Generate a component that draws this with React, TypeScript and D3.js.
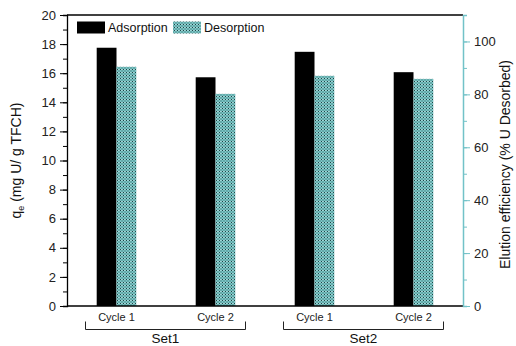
import React, { useEffect, useRef } from 'react';
import * as d3 from 'd3';

// categories and series (qe, mg U / g TFCH)
const sets = ['Set1', 'Set2'];
const cycles = ['Cycle 1', 'Cycle 2', 'Cycle 1', 'Cycle 2'];
const adsorption = [17.75, 15.72, 17.47, 16.07];
const desorption = [16.44, 14.58, 15.82, 15.61];
const leftTicks = [0, 2, 4, 6, 8, 10, 12, 14, 16, 18, 20];
const rightTicks = [0, 20, 40, 60, 80, 100];

const W = 516;
const H = 346;
const FONT = 'Arial, "Liberation Sans", sans-serif';
const TEAL = '#72c2c8';

const App = () => {
  const ref = useRef<SVGSVGElement>(null);

  useEffect(() => {
    const svg = d3.select(ref.current);
    svg.selectAll('*').remove();

    const m = { left: 67, right: 463, top: 15, bottom: 306 };

    // checkered fill for desorption bars
    const defs = svg.append('defs');
    const pat = defs.append('pattern')
      .attr('id', 'chk')
      .attr('patternUnits', 'userSpaceOnUse')
      .attr('width', 3)
      .attr('height', 3);
    pat.append('rect').attr('width', 3).attr('height', 3).attr('fill', '#78c4c4');
    pat.append('rect').attr('x', 0).attr('y', 0).attr('width', 1).attr('height', 1).attr('fill', '#1e4446');
    pat.append('rect').attr('x', 1.5).attr('y', 1.5).attr('width', 1).attr('height', 1).attr('fill', '#2c5c5e');
    pat.append('rect').attr('x', 1.5).attr('y', 0).attr('width', 0.8).attr('height', 0.8).attr('fill', '#e6f6f6');

    const x = d3.scaleBand<number>()
      .domain(d3.range(cycles.length))
      .range([m.left, m.right])
      .paddingInner(0.6)
      .paddingOuter(0.3);
    const y = d3.scaleLinear().domain([0, 20]).range([m.bottom, m.top]);
    const y2 = d3.scaleLinear().domain([0, 110]).range([m.bottom, m.top]);
    const bw = x.bandwidth() / 2;

    const g = svg.append('g');

    // bars
    g.selectAll('rect.ads')
      .data(adsorption)
      .join('rect')
      .attr('class', 'ads')
      .attr('x', (d, i) => x(i)!)
      .attr('y', d => y(d))
      .attr('width', bw)
      .attr('height', d => y(0) - y(d))
      .attr('fill', '#000');

    g.selectAll('rect.des')
      .data(desorption)
      .join('rect')
      .attr('class', 'des')
      .attr('x', (d, i) => x(i)! + bw)
      .attr('y', d => y(d))
      .attr('width', bw)
      .attr('height', d => y(0) - y(d))
      .attr('fill', 'url(#chk)');

    // frame: top and bottom
    g.append('line').attr('x1', m.left).attr('x2', m.right).attr('y1', m.top).attr('y2', m.top)
      .attr('stroke', '#000').attr('stroke-width', 1.3);
    g.append('line').attr('x1', m.left).attr('x2', m.right).attr('y1', m.bottom).attr('y2', m.bottom)
      .attr('stroke', '#000').attr('stroke-width', 1.3);

    // left axis
    const la = g.append('g').attr('transform', `translate(${m.left},0)`)
      .call(d3.axisLeft(y).tickValues(d3.range(0, 21, 1)).tickSize(4).tickFormat(() => ''));
    la.select('.domain').attr('stroke-width', 1.3);
    const la2 = g.append('g').attr('transform', `translate(${m.left},0)`)
      .call(d3.axisLeft(y).tickValues(leftTicks).tickSize(7).tickPadding(4).tickFormat(d3.format('d')));
    la2.select('.domain').remove();
    la2.selectAll('text').attr('font-family', FONT).attr('font-size', 13).attr('fill', '#222');

    // right axis
    const ra = g.append('g').attr('transform', `translate(${m.right},0)`)
      .call(d3.axisRight(y2).tickValues(d3.range(0, 111, 10)).tickSize(4).tickFormat(() => ''));
    ra.selectAll('line,path').attr('stroke', TEAL);
    ra.select('.domain').attr('stroke-width', 1.5);
    const ra2 = g.append('g').attr('transform', `translate(${m.right},0)`)
      .call(d3.axisRight(y2).tickValues(rightTicks).tickSize(7).tickPadding(4).tickFormat(d3.format('d')));
    ra2.select('.domain').remove();
    ra2.selectAll('line').attr('stroke', TEAL);
    ra2.selectAll('text').attr('font-family', FONT).attr('font-size', 13).attr('fill', '#222');

    // cycle labels
    g.selectAll('text.cyc')
      .data(cycles)
      .join('text')
      .attr('class', 'cyc')
      .attr('x', (d, i) => x(i)! + bw)
      .attr('y', 321)
      .attr('text-anchor', 'middle')
      .attr('font-family', FONT)
      .attr('font-size', 11)
      .attr('fill', '#222')
      .text(d => d);

    // set brackets
    sets.forEach((s, k) => {
      const x0 = x(k * 2)! + bw - 31;
      const x1 = x(k * 2 + 1)! + bw + 30;
      g.append('path')
        .attr('d', `M${x0},321.5V329.5H${x1}V321.5`)
        .attr('fill', 'none')
        .attr('stroke', '#222')
        .attr('stroke-width', 1);
      g.append('text')
        .attr('x', (x0 + x1) / 2)
        .attr('y', 343)
        .attr('text-anchor', 'middle')
        .attr('font-family', FONT)
        .attr('font-size', 13.5)
        .attr('fill', '#111')
        .text(s);
    });

    // legend
    const lg = g.append('g').attr('font-family', FONT).attr('font-size', 12.5).attr('fill', '#111');
    lg.append('rect').attr('x', 77).attr('y', 21.5).attr('width', 28).attr('height', 12).attr('fill', '#000');
    lg.append('text').attr('x', 108).attr('y', 32).text('Adsorption');
    lg.append('rect').attr('x', 173).attr('y', 21.5).attr('width', 28).attr('height', 12).attr('fill', 'url(#chk)');
    lg.append('text').attr('x', 204).attr('y', 32).text('Desorption');

    // axis titles
    const lt = g.append('text')
      .attr('transform', `translate(21,${(m.top + m.bottom) / 2}) rotate(-90)`)
      .attr('text-anchor', 'middle')
      .attr('font-family', FONT)
      .attr('font-size', 14)
      .attr('fill', '#111');
    lt.append('tspan').text('q');
    lt.append('tspan').attr('font-size', 9).attr('dy', 3).text('e');
    lt.append('tspan').attr('dy', -3).text(' (mg U/ g TFCH)');

    g.append('text')
      .attr('transform', `translate(510,${(m.top + m.bottom) / 2 + 4}) rotate(-90)`)
      .attr('text-anchor', 'middle')
      .attr('font-family', FONT)
      .attr('font-size', 14)
      .attr('fill', '#111')
      .text('Elution efficiency (% U Desorbed)');
  }, []);

  return (
    <svg ref={ref} width={W} height={H} style={{ position: 'absolute', left: 0, top: 0, background: '#fff' }}></svg>
  );
};

export default App;
